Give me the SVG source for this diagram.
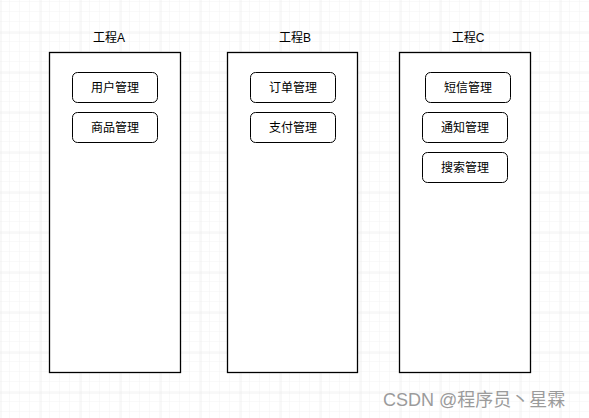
<svg xmlns="http://www.w3.org/2000/svg" width="589" height="418" viewBox="0 0 589 418">
<defs>
<pattern id="minor" width="10" height="10" patternUnits="userSpaceOnUse" x="0" y="2">
<path d="M10 0V10M0 10H10" fill="none" stroke="#f3f3f3" stroke-width="1"/>
</pattern>
<pattern id="major" width="40" height="40" patternUnits="userSpaceOnUse" x="0.5" y="-7.5">
<path d="M0 0V40M0 0H40" fill="none" stroke="#e4e4e4" stroke-width="1"/>
</pattern>
</defs>
<style>
.box{fill:#fff;stroke:#000;stroke-width:1.3}
.node{fill:#fff;stroke:#000;stroke-width:1}
text{font-family:"Liberation Sans","Noto Sans CJK SC",sans-serif;font-size:12px;fill:#000;text-anchor:middle}
.wm{font-size:18px;fill:#9b9b9b;text-anchor:start}
</style>
<rect width="589" height="418" fill="#fff"/>
<rect width="589" height="418" fill="url(#minor)"/>
<rect width="589" height="418" fill="url(#major)"/>
<g id="projA">
<rect class="box" x="49.5" y="52.5" width="131" height="320"/>
<text x="109" y="42">工程A</text>
</g>
<g id="projB">
<rect class="box" x="227.5" y="52.5" width="130" height="320"/>
<text x="295" y="42">工程B</text>
</g>
<g id="projC">
<rect class="box" x="399.5" y="52.5" width="131" height="320"/>
<text x="468" y="42">工程C</text>
</g>
<g id="a1"><rect class="node" x="72.5" y="72.5" width="85" height="30" rx="5"/><text x="115" y="91.5">用户管理</text></g>
<g id="a2"><rect class="node" x="72.5" y="112.5" width="85" height="30" rx="5"/><text x="115" y="131.5">商品管理</text></g>
<g id="b1"><rect class="node" x="250.5" y="72.5" width="85" height="30" rx="5"/><text x="293" y="91.5">订单管理</text></g>
<g id="b2"><rect class="node" x="250.5" y="112.5" width="85" height="30" rx="5"/><text x="293" y="131.5">支付管理</text></g>
<g id="c1"><rect class="node" x="425.5" y="72.5" width="85" height="30" rx="5"/><text x="468" y="91.5">短信管理</text></g>
<g id="c2"><rect class="node" x="422.5" y="112.5" width="85" height="30" rx="5"/><text x="465" y="131.5">通知管理</text></g>
<g id="c3"><rect class="node" x="422.5" y="152.5" width="85" height="30" rx="5"/><text x="465" y="171.5">搜索管理</text></g>
<g id="connectors"></g>
<text class="wm" x="383" y="406">CSDN @程序员丶星霖</text>
</svg>
